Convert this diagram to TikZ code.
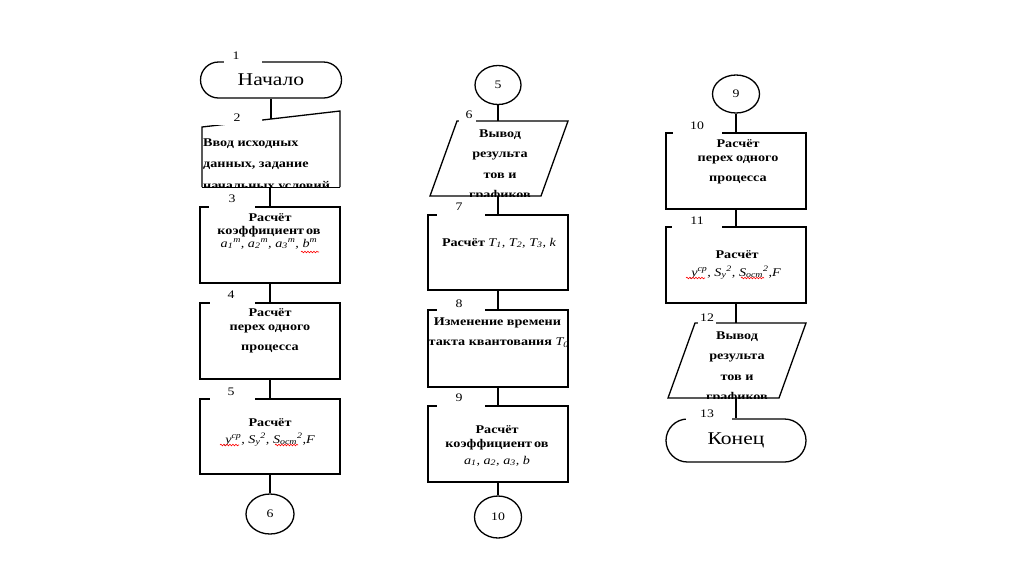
\documentclass[tikz,border=0pt]{standalone}
\usepackage{fontspec}
\setmainfont{Liberation Serif}[FakeStretch=1.2]
\usetikzlibrary{shapes.geometric,shapes.misc,decorations.pathmorphing}
\newcommand\mi[1]{{\mdseries\itshape #1}}
\tikzset{
 shp/.style={draw=black, line width=1.3pt},
 box/.style={shp, rectangle, minimum width=140pt, minimum height=76pt, inner sep=0pt},
 term/.style={shp, rounded rectangle, minimum width=141pt, minimum height=36pt, inner sep=0pt, font=\fontsize{18}{20}\selectfont},
 conn/.style={shp, ellipse, inner sep=0pt, font=\fontsize{11.5}{12}\selectfont},
 num/.style={inner sep=0pt, font=\fontsize{11.5}{12}\selectfont},
 txt/.style={inner sep=0pt, font=\bfseries\fontsize{11.8}{13}\selectfont},
 wire/.style={draw=black, line width=1.4pt},
 mask/.style={fill=white, draw=none},
 squig/.style={draw=red, line width=0.6pt, decorate, decoration={snake, amplitude=0.8pt, segment length=3pt}},
}
\begin{document}
\begin{tikzpicture}[x=1pt,y=-1pt]
\useasboundingbox[fill=white] (0,0) rectangle (1024,574);

% ---------- column 1 ----------
\node[term] (s1) at (271,80) {Начало};
\coordinate (m2tl) at (202,127);
\coordinate (m2tr) at (340,111);
\coordinate (m2br) at (340,187);
\coordinate (m2bl) at (202,187);
\coordinate (m2in) at (271,119);
\coordinate (m2out) at (270,187);
\begin{scope}
\clip (200,100) rectangle (345,187);
\node[txt, anchor=west, align=left, font=\bfseries\fontsize{11.8}{21.5}\selectfont] (t2) at (203,165) {Ввод исходных\\данных, задание\\начальных условий};
\end{scope}
\draw[shp] (m2bl) -- (m2tl) -- (m2tr) -- (m2br);
\draw[draw=black, line width=0.7pt] (m2bl) -- (m2br);
\node[box] (b3) at (270,245) {};
\node[box] (b4) at (270,341) {};
\node[box, minimum height=75pt] (b5) at (270,436.5) {};
\node[conn, minimum width=48pt, minimum height=40pt] (c6) at (270,514) {6};

\draw[wire] (s1.south) -- (m2in);
\draw[wire] (m2out) -- (b3.north);
\draw[wire] (b3.south) -- (b4.north);
\draw[wire] (b4.south) -- (b5.north);
\draw[wire] (b5.south) -- (c6.north);

\node[txt] (t3a) at (270,218) {Расчёт};
\node[txt] (t3b) at (269,232) {коэффициент\kern2pt ов};
\node[txt] (t3c) at (269,244) {\mi{a\textsubscript{1}\textsuperscript{m}, a\textsubscript{2}\textsuperscript{m}, a\textsubscript{3}\textsuperscript{m}, b\textsuperscript{m}}};
\node[txt] (t4a) at (270,313) {Расчёт};
\node[txt] (t4b) at (270,329) {перех\kern3pt одного};
\node[txt] (t4c) at (270,349) {процесса};
\node[txt] (t5a) at (270,423) {Расчёт};
\node[txt] (t5b) at (270,440) {\mi{y\textsuperscript{ср}, S\textsubscript{y}\textsuperscript{2}, S\textsubscript{ост}\textsuperscript{2},F}};
\draw[squig] (301,252) -- (319,252);
\draw[squig] (220,445) -- (239,445);
\draw[squig] (275,445) -- (298,445);

% ---------- column 2 ----------
\node[conn, minimum width=46pt, minimum height=39pt] (c5) at (498,85) {5};
\coordinate (p6tl) at (457,121);
\coordinate (p6tr) at (568,121);
\coordinate (p6br) at (541,196);
\coordinate (p6bl) at (430,196);
\coordinate (p6in) at (498,121);
\coordinate (p6out) at (498,196);
\begin{scope}
\clip (p6tl) -- (p6tr) -- (p6br) -- (p6bl) -- cycle;
\node[txt, align=center, font=\bfseries\fontsize{11.8}{20.5}\selectfont] (t6) at (500,165.5) {Вывод\\результа\\тов и\\графиков};
\end{scope}
\draw[shp] (p6tl) -- (p6tr) -- (p6br) -- (p6bl) -- cycle;
\node[box, minimum height=75pt] (b7) at (498,252.5) {};
\node[box, minimum height=77pt] (b8) at (498,348.5) {};
\node[box] (b9) at (498,444) {};
\node[conn, minimum width=47pt, minimum height=42pt] (c10) at (498,517) {10};

\draw[wire] (c5.south) -- (p6in);
\draw[wire] (p6out) -- (b7.north);
\draw[wire] (b7.south) -- (b8.north);
\draw[wire] (b8.south) -- (b9.north);
\draw[wire] (b9.south) -- (c10.north);

\node[txt] (t7) at (499,243) {Расчёт \mi{T\textsubscript{1}, T\textsubscript{2}, T\textsubscript{3}, k}};
\node[txt] (t8a) at (497.5,323) {Изменение времени};
\begin{scope}
\clip (420,300) rectangle (568.5,390);
\node[txt, anchor=west] (t8b) at (428.5,343) {такта квантования \mi{T\textsubscript{0}}};
\end{scope}
\node[txt] (t9a) at (497,430) {Расчёт};
\node[txt] (t9b) at (497,445) {коэффициент\kern2pt ов};
\node[txt] (t9c) at (497,461) {\mi{a\textsubscript{1}, a\textsubscript{2}, a\textsubscript{3}, b}};

% ---------- column 3 ----------
\node[conn, minimum width=47pt, minimum height=38pt] (c9) at (736,94) {9};
\node[box] (b10) at (736,171) {};
\node[box] (b11) at (736,265) {};
\coordinate (p12tl) at (695,323);
\coordinate (p12tr) at (806,323);
\coordinate (p12br) at (779,398);
\coordinate (p12bl) at (668,398);
\coordinate (p12in) at (736,323);
\coordinate (p12out) at (736,398);
\begin{scope}
\clip (p12tl) -- (p12tr) -- (p12br) -- (p12bl) -- cycle;
\node[txt, align=center, font=\bfseries\fontsize{11.8}{20.5}\selectfont] (t12) at (737,367.5) {Вывод\\результа\\тов и\\графиков};
\end{scope}
\draw[shp] (p12tl) -- (p12tr) -- (p12br) -- (p12bl) -- cycle;
\node[term, minimum width=140pt, minimum height=43pt] (s13) at (736,440.5) {Конец};

\draw[wire] (c9.south) -- (b10.north);
\draw[wire] (b10.south) -- (b11.north);
\draw[wire] (b11.south) -- (p12in);
\draw[wire] (p12out) -- (s13.north);

\node[txt] (t10a) at (738,144) {Расчёт};
\node[txt] (t10b) at (738,160) {перех\kern3pt одного};
\node[txt] (t10c) at (738,180) {процесса};
\node[txt] (t11a) at (737,255) {Расчёт};
\node[txt] (t11b) at (736,273) {\mi{y\textsuperscript{ср}, S\textsubscript{y}\textsuperscript{2}, S\textsubscript{ост}\textsuperscript{2},F}};
\draw[squig] (686,278) -- (705,278);
\draw[squig] (741,278) -- (764,278);

% ---------- number labels (white backgrounds hide parts of outlines) ----------
\path[mask] (224,50) rectangle (262,64.5);
\path[mask] (206,108) rectangle (262,125.3);
\path[mask] (209,190) rectangle (255,210);
\path[mask] (210,287) rectangle (255,306);
\path[mask] (210,384) rectangle (255,402);
\path[mask] (459,108) rectangle (476,123.5);
\path[mask] (437,200) rectangle (485,218);
\path[mask] (437,296) rectangle (485,313);
\path[mask] (437,390) rectangle (485,409);
\path[mask] (673,118) rectangle (722,136);
\path[mask] (672,212) rectangle (722,230);
\path[mask] (698,311) rectangle (716,325.5);
\path[mask] (686,406) rectangle (732,422);

\node[num] (n1) at (236,56) {1};
\node[num] (n2) at (237,118) {2};
\node[num] (n3) at (232,199) {3};
\node[num] (n4) at (231,295) {4};
\node[num] (n5) at (231,392) {5};
\node[num] (n6) at (469,115) {6};
\node[num] (n7) at (459,207) {7};
\node[num] (n8) at (459,304) {8};
\node[num] (n9) at (459,398) {9};
\node[num] (n10) at (697,126) {10};
\node[num] (n11) at (697,221) {11};
\node[num] (n12) at (707,318) {12};
\node[num] (n13) at (707,414) {13};
\end{tikzpicture}
\end{document}
